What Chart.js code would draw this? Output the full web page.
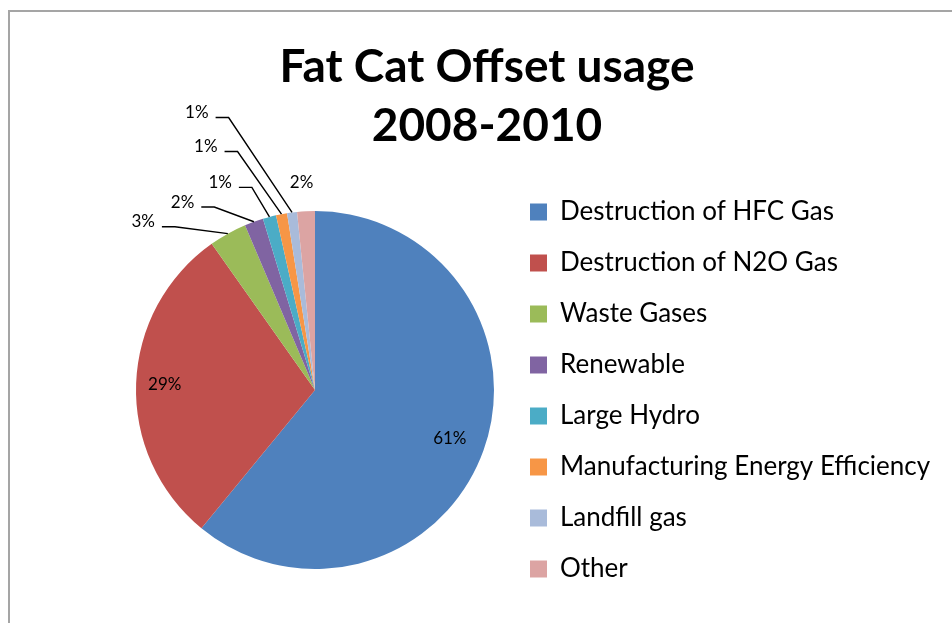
<!DOCTYPE html>
<html>
<head>
<meta charset="utf-8">
<title>Fat Cat Offset usage 2008-2010</title>
<script src="https://cdn.jsdelivr.net/npm/chart.js@4.4.1/dist/chart.umd.min.js"></script>
<style>
    html, body { margin: 0; padding: 0; background: #ffffff; }
    canvas { display: block; }
</style>
</head>
<body>
<canvas id="offsetPie" width="952" height="623"></canvas>
<script>
(function () {

// -------------------------------------------------------------------------------------------------------
// data

var titleLines = ['Fat Cat Offset usage', '2008-2010'];

var categories = [
    'Destruction of HFC Gas',
    'Destruction of N2O Gas',
    'Waste Gases',
    'Renewable',
    'Large Hydro',
    'Manufacturing Energy Efficiency',
    'Landfill gas',
    'Other'
];

// share of offsets, percent (slice angles)
var shares = [61.0, 29.3, 3.4, 1.7, 1.2, 1.0, 0.9, 1.6];

var sliceColors = ['#4F81BD', '#C0504D', '#9BBB59', '#8064A2', '#4BACC6', '#F79646', '#A9BBDA', '#DCA4A3'];

// -------------------------------------------------------------------------------------------------------

// grey chart frame, like the office chart box
var frame = {
    id: 'frame',
    beforeDraw: function (chart) {
        var ctx = chart.ctx;
        ctx.save();
        ctx.strokeStyle = '#a5a5a5';
        ctx.lineWidth = 2;
        ctx.strokeRect(9, 11, chart.width + 20, chart.height + 20);
        ctx.restore();
    }
};

// title centred over pie + legend (the built-in title would centre on the padded box)
var chartTitle = {
    id: 'chartTitle',
    afterDraw: function (chart, args, opts) {
        var ctx = chart.ctx;
        ctx.save();
        ctx.font = opts.font;
        ctx.fillStyle = '#000000';
        ctx.textAlign = 'center';
        ctx.textBaseline = 'middle';
        opts.lines.forEach(function (line, i) {
            ctx.fillText(line, opts.x, opts.y + i * opts.lineHeight);
        });
        ctx.restore();
    }
};

// percent labels, some inside, some outside with leader lines
var sliceLabels = {
    id: 'sliceLabels',
    afterDatasetsDraw: function (chart, args, opts) {
        try {
            var ctx = chart.ctx;
            var meta = chart.getDatasetMeta(0);
            var values = chart.data.datasets[0].data;
            var total = values.reduce(function (a, b) { return a + b; }, 0);

            ctx.save();
            ctx.font = opts.font;
            ctx.fillStyle = '#000000';
            ctx.strokeStyle = '#000000';
            ctx.lineWidth = 1.4;
            ctx.textAlign = 'center';
            ctx.textBaseline = 'middle';

            meta.data.forEach(function (arc, i) {
                var spot = opts.spots[i];
                var p = arc.getProps(['x', 'y', 'startAngle', 'endAngle', 'outerRadius'], true);
                var mid = (p.startAngle + p.endAngle) / 2;
                var r = p.outerRadius;
                var text = Math.round(values[i] / total * 100) + '%';
                var tx, ty;

                if (spot.inside) {
                    tx = p.x + Math.cos(mid) * r * spot.inside;
                    ty = p.y + Math.sin(mid) * r * spot.inside;
                } else {
                    tx = p.x + spot.dx * r;
                    ty = p.y + spot.dy * r;
                }
                ctx.fillText(text, tx, ty);

                if (spot.leader) {
                    var w = ctx.measureText(text).width;
                    var sx = tx + w / 2 + 7;
                    var sy = ty + 5;
                    ctx.beginPath();
                    ctx.moveTo(sx, sy);
                    ctx.lineTo(sx + 13, sy);
                    ctx.lineTo(p.x + Math.cos(mid) * r, p.y + Math.sin(mid) * r);
                    ctx.stroke();
                }
            });
            ctx.restore();
        } catch (e) {
            console.log("Error in sliceLabels: " + e);
        }
    }
};

var canvas = document.getElementById('offsetPie');
var ctx = canvas.getContext('2d');

new Chart(ctx, {
    type: 'pie',
    data: {
        labels: categories,
        datasets: [{
            data: shares,
            backgroundColor: sliceColors,
            borderWidth: 0
        }]
    },
    options: {
        responsive: false,
        animation: false,
        radius: 179,
        layout: {
            padding: { left: 125, right: 13, top: 173, bottom: 16 }
        },
        plugins: {
            title: { display: false },
            legend: {
                display: true,
                position: 'right',
                align: 'end',
                maxWidth: 434,
                labels: {
                    color: '#000000',
                    font: { family: 'Lato', size: 26 },
                    boxWidth: 17,
                    boxHeight: 17,
                    padding: 25
                }
            },
            tooltip: { enabled: false },
            chartTitle: {
                lines: titleLines,
                font: 'bold 46px Lato',
                x: 487,
                y: 67,
                lineHeight: 59
            },
            sliceLabels: {
                font: '17px Lato',
                spots: [
                    { inside: 0.80 },
                    { inside: 0.84 },
                    { dx: -0.96, dy: -0.94, leader: true },
                    { dx: -0.74, dy: -1.05, leader: true },
                    { dx: -0.53, dy: -1.16, leader: true },
                    { dx: -0.61, dy: -1.36, leader: true },
                    { dx: -0.66, dy: -1.55, leader: true },
                    { dx: -0.075, dy: -1.16 }
                ]
            }
        }
    },
    plugins: [frame, chartTitle, sliceLabels]
});

// -------------------------------------------------------------------------------------------------------

})();
</script>
</body>
</html>
